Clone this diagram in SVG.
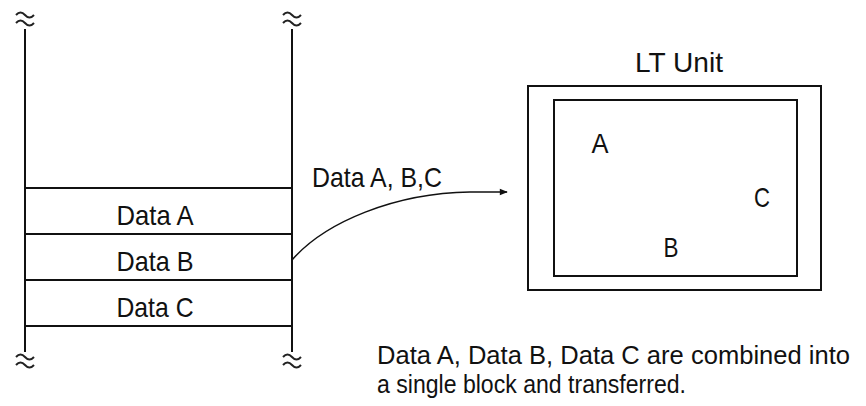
<svg xmlns="http://www.w3.org/2000/svg" width="866" height="406" viewBox="0 0 866 406">
<defs>
<style>
.t{font-family:"Liberation Sans",Arial,sans-serif;font-size:28px;fill:#111}
.n{font-size:26px}
.ln{stroke:#111;stroke-width:2;fill:none}
.br{stroke:#222;stroke-width:2;fill:none}
</style>
<marker id="ah" viewBox="0 0 10 10" refX="9" refY="5" markerWidth="11" markerHeight="8" markerUnits="userSpaceOnUse" orient="auto">
<path d="M0,1 L10,5 L0,9 Z" fill="#111"/>
</marker>
<path id="brk" d="M-9,17 q4.5,-5 9,0 t9,0 M-9,25 q4.5,-5 9,0 t9,0"/>
</defs>
<rect width="866" height="406" fill="#fff"/>
<g id="stack">
<line class="ln" x1="25" y1="29" x2="25" y2="352"/>
<line class="ln" x1="292" y1="29" x2="292" y2="352"/>
<line class="ln" x1="25" y1="188" x2="292" y2="188"/>
<line class="ln" x1="25" y1="234" x2="292" y2="234"/>
<line class="ln" x1="25" y1="280" x2="292" y2="280"/>
<line class="ln" x1="25" y1="326" x2="292" y2="326"/>
<use href="#brk" class="br" x="25" y="-2"/>
<use href="#brk" class="br" x="292" y="-2"/>
<use href="#brk" class="br" x="25" y="340"/>
<use href="#brk" class="br" x="292" y="340"/>
</g>
<g id="dataA"><text class="t" x="155" y="225" text-anchor="middle" textLength="77" lengthAdjust="spacingAndGlyphs">Data A</text></g>
<g id="dataB"><text class="t" x="155" y="271" text-anchor="middle" textLength="77" lengthAdjust="spacingAndGlyphs">Data B</text></g>
<g id="dataC"><text class="t" x="155" y="317" text-anchor="middle" textLength="77" lengthAdjust="spacingAndGlyphs">Data C</text></g>
<g id="connectors">
<path d="M292,260 C325,222 395,193 470,192 L507,192" fill="none" stroke="#111" stroke-width="1.5" marker-end="url(#ah)"/>
<text class="t" x="312" y="187" textLength="130" lengthAdjust="spacingAndGlyphs">Data A, B,C</text>
</g>
<g id="ltunit">
<text class="t" x="635" y="72" textLength="88" lengthAdjust="spacingAndGlyphs">LT  Unit</text>
<rect class="ln" x="528" y="86" width="293" height="204"/>
<rect class="ln" x="554" y="100" width="243" height="176"/>
<text class="t" x="600" y="153" text-anchor="middle" textLength="17" lengthAdjust="spacingAndGlyphs">A</text>
<text class="t" x="762" y="207" text-anchor="middle" textLength="16" lengthAdjust="spacingAndGlyphs">C</text>
<text class="t" x="671" y="257" text-anchor="middle" textLength="15" lengthAdjust="spacingAndGlyphs">B</text>
</g>
<g id="note">
<text class="t n" x="377" y="364" textLength="473" lengthAdjust="spacingAndGlyphs">Data A, Data B, Data C are combined into</text>
<text class="t n" x="377" y="393" textLength="309" lengthAdjust="spacingAndGlyphs">a single block and transferred.</text>
</g>
</svg>
